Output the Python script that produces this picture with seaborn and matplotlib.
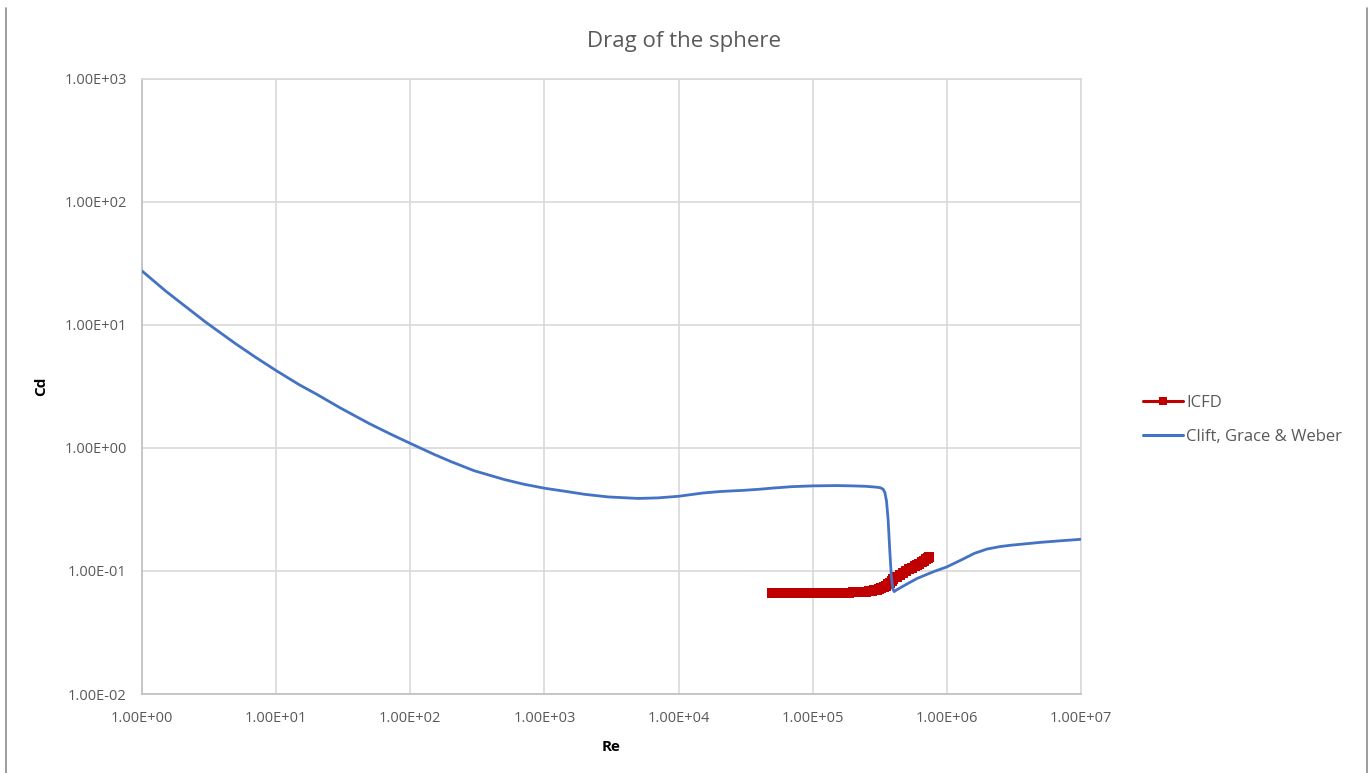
import numpy as np
import matplotlib
matplotlib.use("Agg")
import matplotlib.pyplot as plt
import seaborn as sns
from matplotlib.lines import Line2D
from matplotlib.ticker import FixedLocator, FuncFormatter, NullLocator

# ---- data ----
icfd_re = [5.0e4, 5.5e4, 6.0e4, 6.5e4, 7.0e4, 7.75e4, 8.5e4, 9.25e4, 1.0e5, 1.125e5,
           1.25e5, 1.375e5, 1.5e5, 1.625e5, 1.75e5, 1.875e5, 2.0e5, 2.125e5, 2.25e5,
           2.375e5, 2.5e5, 2.625e5, 2.75e5, 2.875e5, 3.0e5, 3.125e5, 3.25e5, 3.375e5,
           3.5e5, 3.625e5, 3.75e5, 3.875e5, 4.0e5, 4.25e5, 4.5e5, 4.75e5, 5.0e5, 5.25e5,
           5.5e5, 5.75e5, 6.0e5, 6.25e5, 6.5e5, 6.75e5, 7.0e5, 7.2e5, 7.4e5]
icfd_cd = [0.066, 0.066, 0.066, 0.066, 0.066, 0.0661, 0.0662, 0.0663, 0.0664, 0.0665,
           0.0665, 0.0666, 0.0666, 0.0667, 0.0667, 0.0668, 0.0669, 0.0670, 0.0672,
           0.0675, 0.0678, 0.0683, 0.0688, 0.0696, 0.0705, 0.0716, 0.0728, 0.0742,
           0.0758, 0.0778, 0.0800, 0.0826, 0.0855, 0.0893, 0.0930, 0.0965, 0.1000, 0.1030,
           0.1060, 0.1090, 0.1120, 0.1150, 0.1180, 0.1215, 0.1250, 0.1280, 0.1310]

cgw_re = [1, 1.5, 2, 3, 5, 7, 10, 15, 20, 30, 50, 70, 100, 150, 200, 300, 500, 700,
          1000, 1500, 2000, 3000, 5000, 7000, 1e4, 1.5e4, 2e4, 2.5e4, 3e4, 4e4, 5e4,
          7e4, 1e5, 1.5e5, 2e5, 2.5e5, 3e5, 3.2e5, 3.35e5, 3.45e5, 3.55e5, 3.65e5,
          3.75e5, 3.85e5, 3.95e5, 4.05e5, 4.2e5, 5e5, 6e5, 8e5, 1e6, 1.3e6, 1.6e6,
          2e6, 2.5e6, 3e6, 4e6, 5e6, 7e6, 1e7]
cgw_cd = [27.5, 18.9, 14.8, 10.5, 7.03, 5.48, 4.26, 3.25, 2.74, 2.12, 1.57, 1.31, 1.09,
          0.889, 0.777, 0.653, 0.555, 0.508, 0.471, 0.441, 0.420, 0.400, 0.389, 0.393,
          0.405, 0.430, 0.442, 0.448, 0.452, 0.462, 0.472, 0.485, 0.492, 0.495, 0.492,
          0.488, 0.480, 0.475, 0.462, 0.435, 0.37, 0.26, 0.15, 0.092, 0.072, 0.068,
          0.0700, 0.0780, 0.0870, 0.0990, 0.108, 0.124, 0.139, 0.151, 0.158, 0.162,
          0.167, 0.171, 0.176, 0.181]

x_ticks = [1e0, 1e1, 1e2, 1e3, 1e4, 1e5, 1e6, 1e7]
y_ticks = [1e-2, 1e-1, 1e0, 1e1, 1e2, 1e3]

title = "Drag of the sphere"
x_label = "Re"
y_label = "Cd"

# ---- style ----
sns.set_style("white")
plt.rcParams['font.family'] = ['Open Sans', 'DejaVu Sans']

text_gray = "#595959"
grid_gray = "#d9d9d9"
blue = "#4472C4"
red = "#C00000"

fig = plt.figure(figsize=(13.68, 7.73), dpi=100)
ax = fig.add_axes([142/1368, 1 - 694/773, (1081-142)/1368, (694-79)/773])

sns.lineplot(x=icfd_re, y=icfd_cd, ax=ax, color=red, lw=6.5, marker='s',
             markersize=7, markeredgewidth=0, label="ICFD", sort=False, zorder=3)
sns.lineplot(x=cgw_re, y=cgw_cd, ax=ax, color=blue, lw=2,
             label="Clift, Grace & Weber", sort=False, zorder=4)

ax.set_xscale('log')
ax.set_yscale('log')
ax.set_xlim(1e0, 1e7)
ax.set_ylim(1e-2, 1e3)
ax.xaxis.set_major_locator(FixedLocator(x_ticks))
ax.yaxis.set_major_locator(FixedLocator(y_ticks))
ax.xaxis.set_minor_locator(NullLocator())
ax.yaxis.set_minor_locator(NullLocator())
fmt = FuncFormatter(lambda v, p: "{:.2E}".format(v))
ax.xaxis.set_major_formatter(fmt)
ax.yaxis.set_major_formatter(fmt)
ax.grid(True, color=grid_gray, lw=1.2)
ax.set_axisbelow(True)
for s in ax.spines.values():
    s.set_color(grid_gray)
    s.set_linewidth(1.2)
ax.spines['left'].set_color("#bfbfbf")
ax.spines['bottom'].set_color("#bfbfbf")
ax.tick_params(axis='both', length=0, labelsize=10.5, labelcolor=text_gray)
ax.tick_params(axis='y', pad=11)
ax.tick_params(axis='x', pad=12)

ax.set_xlabel(x_label, fontsize=11, fontweight='bold', color="#000000", labelpad=10)
ax.set_ylabel(y_label, fontsize=11, fontweight='bold', color="#000000", labelpad=12)

fig.text(0.5, 1 - 41/773, title, ha='center', va='center', fontsize=16, color=text_gray)

ax.get_legend().remove()
h_icfd = Line2D([], [], color=red, lw=2.2, marker='s', markersize=6, markeredgewidth=0)
h_cgw = Line2D([], [], color=blue, lw=2.2)
fig.legend([h_icfd, h_cgw], ["ICFD", "Clift, Grace & Weber"], loc='center left',
           bbox_to_anchor=(1128/1368, 1 - 420/773),
           frameon=False, fontsize=12, handlelength=2.4, handletextpad=0.2,
           labelspacing=1.1, labelcolor=text_gray)

# chart border lines
fig.add_artist(Line2D([6/1368, 6/1368], [0, 1 - 8/773], transform=fig.transFigure,
                      color="#8c8c8c", lw=1.2))
fig.add_artist(Line2D([1366.5/1368, 1366.5/1368], [0, 1 - 8/773], transform=fig.transFigure,
                      color="#8c8c8c", lw=1.2))

fig.savefig("out.png", dpi=100)
